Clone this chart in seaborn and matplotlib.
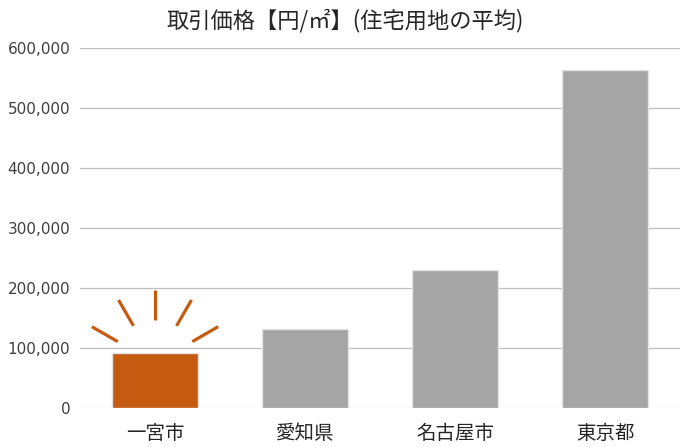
import numpy as np
import pandas as pd
import matplotlib
matplotlib.use("Agg")
from matplotlib import pyplot as plt
import matplotlib.transforms as mtransforms
from matplotlib.ticker import FuncFormatter
import seaborn as sns

# data
categories = ["一宮市", "愛知県", "名古屋市", "東京都"]
prices = [91000, 131000, 230000, 564000]
highlight = "一宮市"

title = "取引価格【円/㎡】(住宅用地の平均)"
y_ticks = [0, 100000, 200000, 300000, 400000, 500000, 600000]

ORANGE = "#C55A11"
GRAY = "#A5A5A5"

sns.set_theme(style="white")
plt.rcParams["font.family"] = ["Noto Sans CJK JP", "DejaVu Sans"]

df = pd.DataFrame({"area": categories, "price": prices})
palette = {c: (ORANGE if c == highlight else GRAY) for c in categories}

fig = plt.figure(figsize=(6.9, 4.47), dpi=100)
ax = fig.add_axes([80 / 690, 39.3 / 447, 600 / 690, 359.7 / 447])

sns.barplot(data=df, x="area", y="price", hue="area", palette=palette,
            legend=False, width=0.57, edgecolor="#E3E3E3", linewidth=1,
            saturation=1, ax=ax, zorder=3)

ax.set_ylim(0, 600000)
ax.set_xlim(-0.5, len(categories) - 0.5)
ax.set_yticks(y_ticks)
ax.yaxis.set_major_formatter(FuncFormatter(lambda v, p: f"{int(v):,}"))
ax.set_xlabel("")
ax.set_ylabel("")
for s in ax.spines.values():
    s.set_visible(False)

for v in y_ticks:
    ax.axhline(v, color="#D9D9D9" if v == 0 else "#BFBFBF", lw=0.9, zorder=1)

ax.tick_params(axis="y", length=0, pad=7, labelcolor="#404040")
ax.tick_params(axis="x", length=0, pad=11, labelsize=14, labelcolor="#262626")
for lbl in ax.get_yticklabels():
    lbl.set_fontfamily("DejaVu Sans")
    lbl.set_fontsize(11)

# sparkle lines around the highlighted bar
i = categories.index(highlight)
pts = mtransforms.Affine2D().scale(1 / 72) + fig.dpi_scale_trans
anchor = mtransforms.ScaledTranslation(i, prices[i], ax.transData)
trans = pts + anchor
cy = -7.2
r0, r1 = 31, 52.5
for ang in [30, 60, 90, 120, 150]:
    a = np.deg2rad(ang)
    xs = [r0 * np.cos(a), r1 * np.cos(a)]
    ys = [cy + r0 * np.sin(a), cy + r1 * np.sin(a)]
    ax.plot(xs, ys, color=ORANGE, lw=2.3, solid_capstyle="butt",
            transform=trans, clip_on=False, zorder=4)

fig.text(0.5, 1 - 21 / 447, title, ha="center", va="center",
         fontsize=16, color="#262626")

fig.savefig("out.png", dpi=100)
